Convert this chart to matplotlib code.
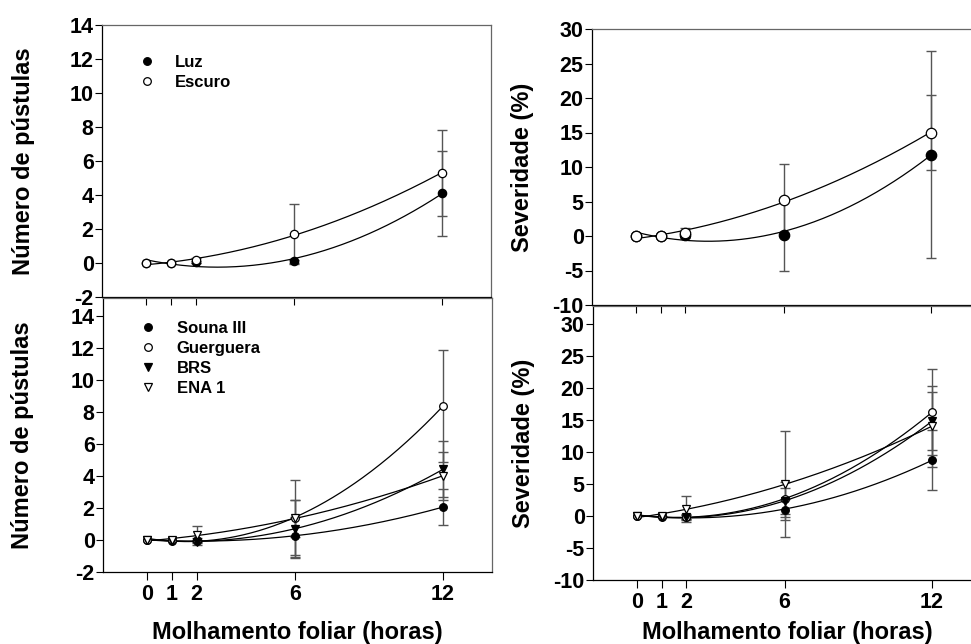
import numpy as np
import matplotlib
matplotlib.use('Agg')
import matplotlib.pyplot as plt
from matplotlib.lines import Line2D

plt.rcParams['font.family'] = ['Liberation Sans', 'DejaVu Sans']
plt.rcParams['font.weight'] = 'bold'
plt.rcParams['axes.unicode_minus'] = False

# ---------------- data ----------------
hours = [0, 1, 2, 6, 12]

# Top-left: number of pustules, light vs dark
luz_pust = [0.0, 0.0, 0.05, 0.1, 4.1]
luz_pust_err = [0.0, 0.0, 0.05, 0.1, 2.5]
escuro_pust = [0.0, 0.0, 0.15, 1.7, 5.3]
escuro_pust_err = [0.0, 0.0, 0.15, 1.75, 2.55]

# Top-right: severity, light vs dark
luz_sev = [0.0, 0.0, 0.1, 0.2, 11.8]
luz_sev_err = [0.0, 0.0, 0.3, 5.3, 15.0]
escuro_sev = [0.0, 0.0, 0.4, 5.2, 15.0]
escuro_sev_err = [0.0, 0.0, 0.7, 5.2, 5.5]

# Bottom-left: number of pustules by cultivar
souna_pust = [0.0, -0.05, -0.05, 0.25, 2.05]
souna_pust_err = [0.0, 0.0, 0.05, 1.2, 1.1]
guerguera_pust = [0.0, 0.0, 0.0, 1.35, 8.35]
guerguera_pust_err = [0.0, 0.0, 0.1, 2.4, 3.5]
brs_pust = [0.0, -0.05, -0.1, 0.7, 4.4]
brs_pust_err = [0.0, 0.0, 0.1, 1.8, 1.75]
ena_pust = [0.0, 0.0, 0.3, 1.35, 4.0]
ena_pust_err = [0.0, 0.0, 0.6, 1.15, 1.5]

# Bottom-right: severity by cultivar
souna_sev = [0.0, -0.1, -0.2, 1.0, 8.7]
souna_sev_err = [0.0, 0.1, 0.5, 1.6, 4.7]
guerguera_sev = [0.0, 0.0, -0.1, 2.6, 16.2]
guerguera_sev_err = [0.0, 0.0, 0.3, 2.7, 6.7]
brs_sev = [0.0, -0.1, -0.2, 2.3, 14.8]
brs_sev_err = [0.0, 0.0, 0.3, 2.0, 4.5]
ena_sev = [0.0, 0.0, 1.1, 5.0, 14.0]
ena_sev_err = [0.0, 0.0, 2.0, 8.3, 6.3]

x_ticks = [0, 1, 2, 6, 12]
pust_ticks = [-2, 0, 2, 4, 6, 8, 10, 12, 14]
sev_ticks = [-10, -5, 0, 5, 10, 15, 20, 25, 30]

xlabel_text = 'Molhamento foliar (horas)'
pust_label = 'Número de pústulas'
sev_label = 'Severidade (%)'

# ---------------- layout ----------------
W, H = 971, 644
fig = plt.figure(figsize=(W / 100, H / 100), dpi=100)


def px_axes(left, top, right, bottom):
    return fig.add_axes([left / W, 1 - bottom / H, (right - left) / W, (bottom - top) / H])


ax_tl = px_axes(102, 25, 491, 297)
ax_bl = px_axes(103, 298, 492, 572)
ax_tr = px_axes(592, 29, 980, 305)
ax_br = px_axes(593, 306, 981, 580)


def plot_series(ax, y, err, marker, filled, ms, ecolor='#555555'):
    y = np.asarray(y, float)
    err = np.asarray(err, float)
    hx = np.asarray(hours, float)
    m = err > 0
    ax.errorbar(hx[m], y[m], yerr=err[m], fmt='none', ecolor=ecolor,
                elinewidth=1.0, capsize=3.5, capthick=1.0, zorder=2)
    coef = np.polyfit(hx, y, 2)
    xs = np.linspace(0, 12, 200)
    ax.plot(xs, np.polyval(coef, xs), color='black', lw=0.9, zorder=3)
    ax.plot(hx, y, ls='none', marker=marker, ms=ms,
            mfc='black' if filled else 'white', mec='black', mew=0.9, zorder=4)


def style_axes(ax, ylim, yticks, show_xlabels):
    ax.set_xlim(-1.8, 14.0)
    ax.set_ylim(*ylim)
    ax.set_xticks(x_ticks)
    ax.set_yticks(yticks)
    ax.tick_params(axis='y', direction='out', length=5, width=0.8, labelsize=15.5, pad=1)
    ax.tick_params(axis='x', direction='out', length=6, width=0.8, labelsize=15.5, pad=3,
                   labelbottom=show_xlabels)
    for s in ['left', 'bottom']:
        ax.spines[s].set_color('black')
        ax.spines[s].set_linewidth(0.9)
    for s in ['top', 'right']:
        ax.spines[s].set_color('#666666')
        ax.spines[s].set_linewidth(0.9)
    ax.patch.set_alpha(0)


# Top-left
plot_series(ax_tl, luz_pust, luz_pust_err, 'o', True, 6)
plot_series(ax_tl, escuro_pust, escuro_pust_err, 'o', False, 6)
style_axes(ax_tl, (-2, 14), pust_ticks, False)

# Top-right
plot_series(ax_tr, luz_sev, luz_sev_err, 'o', True, 7.5)
plot_series(ax_tr, escuro_sev, escuro_sev_err, 'o', False, 7.5)
style_axes(ax_tr, (-10, 30), sev_ticks, False)

# Bottom-left
plot_series(ax_bl, souna_pust, souna_pust_err, 'o', True, 5.5)
plot_series(ax_bl, guerguera_pust, guerguera_pust_err, 'o', False, 5.5)
plot_series(ax_bl, brs_pust, brs_pust_err, 'v', True, 5.5)
plot_series(ax_bl, ena_pust, ena_pust_err, 'v', False, 5.5)
style_axes(ax_bl, (-2, 15.1), pust_ticks, True)

# Bottom-right
plot_series(ax_br, souna_sev, souna_sev_err, 'o', True, 5.5)
plot_series(ax_br, guerguera_sev, guerguera_sev_err, 'o', False, 5.5)
plot_series(ax_br, brs_sev, brs_sev_err, 'v', True, 5.5)
plot_series(ax_br, ena_sev, ena_sev_err, 'v', False, 5.5)
style_axes(ax_br, (-10, 32.8), sev_ticks, True)

# Axis labels
for ax, lab, xc in [(ax_tl, pust_label, -0.203), (ax_bl, pust_label, -0.206),
                    (ax_tr, sev_label, -0.178), (ax_br, sev_label, -0.180)]:
    ax.set_ylabel(lab, fontsize=17, fontweight='bold')
    ax.yaxis.label.set_verticalalignment('center')
    ax.yaxis.set_label_coords(xc, 0.5)

for ax, yc in [(ax_bl, -0.219), (ax_br, -0.190)]:
    ax.set_xlabel(xlabel_text, fontsize=17, fontweight='bold')
    ax.xaxis.label.set_verticalalignment('center')
    ax.xaxis.set_label_coords(0.5, yc)


# Legends
def mk(marker, filled):
    return Line2D([], [], ls='none', marker=marker, ms=5.5,
                  mfc='black' if filled else 'white', mec='black', mew=0.9)


leg_tl = ax_tl.legend([mk('o', True), mk('o', False)], ['Luz', 'Escuro'],
                      loc='upper left', bbox_to_anchor=(0.094, 0.89),
                      frameon=False, fontsize=12, handlelength=1.0,
                      handletextpad=1.18, borderpad=0, borderaxespad=0,
                      labelspacing=0.3)
leg_bl = ax_bl.legend([mk('o', True), mk('o', False), mk('v', True), mk('v', False)],
                      ['Souna III', 'Guerguera', 'BRS', 'ENA 1'],
                      loc='upper left', bbox_to_anchor=(0.094, 0.915),
                      frameon=False, fontsize=12, handlelength=1.0,
                      handletextpad=1.22, borderpad=0, borderaxespad=0,
                      labelspacing=0.3)
for lg in (leg_tl, leg_bl):
    for t in lg.get_texts():
        t.set_fontweight('bold')

fig.savefig('out.png', dpi=100)
